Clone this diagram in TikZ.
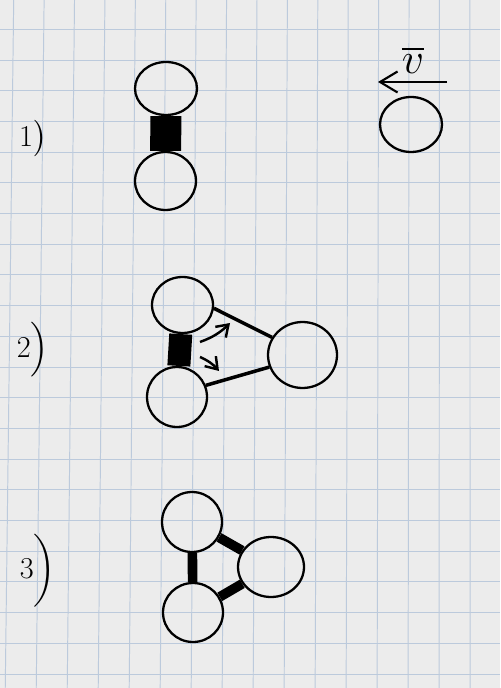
\documentclass[tikz,border=0pt]{standalone}
\usepackage{tikz}
\usetikzlibrary{arrows.meta,shapes.geometric}
\usepackage{amsmath}

\definecolor{paper}{RGB}{236,236,236}
\definecolor{gridblue}{RGB}{188,202,220}

\begin{document}
\begin{tikzpicture}[x=0.02cm,y=-0.02cm,
  atom/.style={draw,ellipse,line width=1.3pt,inner sep=0pt},
  bond/.style={line width=5.5pt},
  rod/.style={line width=2pt},
  push/.style={line width=1.4pt,-{Straight Barb[length=2.2mm,width=3mm]}},
  vel/.style={line width=1.2pt,-{Straight Barb[length=3.5mm,width=4.2mm]}},
  gridline/.style={gridblue,line width=0.55pt},
  num/.style={font=\LARGE}]
\useasboundingbox (0,0) rectangle (500,688);
\fill[paper] (0,0) rectangle (500,688);
\foreach \k in {0,...,15}
  \draw[gridline] ({13.7+30.41*\k},0) -- ({5.25+30.99*\k},688);
\foreach \k in {0,...,22}
  \draw[gridline] (0,{-1.4+30.7*\k}) -- (500,{-1.4+30.7*\k});

\node[num] (l1) at (33,139) {$1\big)$};
\node[atom,minimum width=1.24cm,minimum height=1.06cm] (a1) at (166,88.5) {};
\node[atom,minimum width=1.22cm,minimum height=1.16cm] (b1) at (165.5,181) {};
\draw[line width=0.62cm] (a1) -- (b1);
\node[atom,minimum width=1.24cm,minimum height=1.1cm] (c1) at (411,124.5) {};
\coordinate (v0) at (447,82);
\coordinate (v1) at (378,82);
\draw[vel] (v0) -- (v1);
\node[font=\Huge] (vlab) at (413,60) {$\overline{v}$};

\node[num] (l2) at (33,350) {$2\Big)$};
\node[atom,minimum width=1.22cm,minimum height=1.12cm] (a2) at (182.5,305) {};
\node[atom,minimum width=1.2cm,minimum height=1.2cm] (b2) at (177,397) {};
\node[atom,minimum width=1.38cm,minimum height=1.32cm] (c2) at (302.5,355) {};
\draw[line width=0.46cm] (a2) -- (b2);
\draw[rod] (a2.-6) -- (c2.150);
\draw[rod] (b2.22) -- (c2.200);
\coordinate (p0) at (200,342);
\coordinate (p1) at (230,323);
\coordinate (q0) at (200,357);
\coordinate (q1) at (219,371);
\draw[push] (p0) to[bend right=12] (p1);
\draw[push] (q0) to[bend left=12] (q1);

\node[num] (l3) at (38,571) {$3\bigg)$};
\node[atom,minimum width=1.2cm,minimum height=1.2cm] (a3) at (192,522) {};
\node[atom,minimum width=1.2cm,minimum height=1.18cm] (b3) at (193,612.5) {};
\node[atom,minimum width=1.32cm,minimum height=1.2cm] (c3) at (271,567) {};
\draw[bond] (a3) -- (b3);
\draw[bond] (a3) -- (c3);
\draw[bond] (b3) -- (c3);
\end{tikzpicture}
\end{document}
